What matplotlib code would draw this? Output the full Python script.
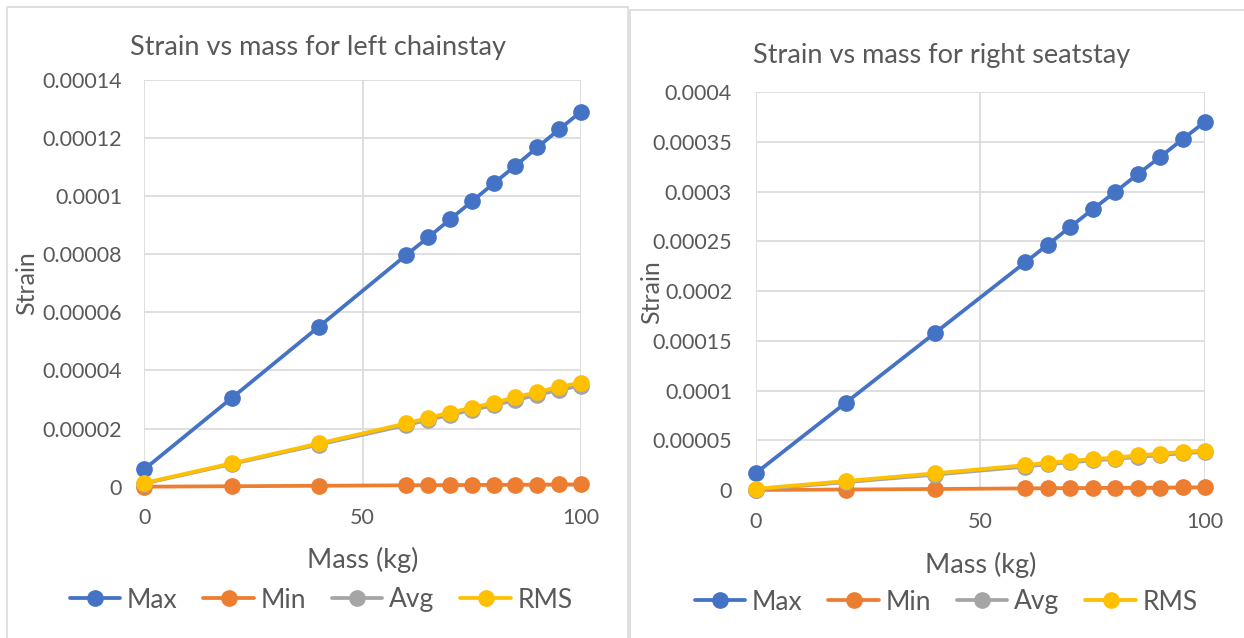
import matplotlib
matplotlib.use("Agg")
import matplotlib.pyplot as plt
from matplotlib.patches import Rectangle
from matplotlib.ticker import FixedLocator, FixedFormatter

plt.rcParams['font.family'] = ['Lato', 'DejaVu Sans']

# ---- data -------------------------------------------------------------
mass = [0, 20, 40, 60, 65, 70, 75, 80, 85, 90, 95, 100]

chain_max = [6.0e-6, 3.05e-5, 5.51e-5, 7.98e-5, 8.58e-5, 9.20e-5,
             9.82e-5, 1.044e-4, 1.105e-4, 1.168e-4, 1.230e-4, 1.291e-4]
chain_min = [0.0, 1.6e-7, 3.2e-7, 4.8e-7, 5.2e-7, 5.6e-7,
             6.0e-7, 6.4e-7, 6.8e-7, 7.2e-7, 7.6e-7, 8.0e-7]
chain_avg = [1.1e-6, 7.8e-6, 1.45e-5, 2.12e-5, 2.30e-5, 2.47e-5,
             2.64e-5, 2.80e-5, 2.98e-5, 3.16e-5, 3.33e-5, 3.48e-5]
chain_rms = [1.3e-6, 8.05e-6, 1.49e-5, 2.18e-5, 2.37e-5, 2.55e-5,
             2.72e-5, 2.89e-5, 3.08e-5, 3.26e-5, 3.44e-5, 3.58e-5]

seat_max = [1.69e-5, 8.76e-5, 1.583e-4, 2.29e-4, 2.467e-4, 2.645e-4,
            2.823e-4, 2.997e-4, 3.175e-4, 3.349e-4, 3.527e-4, 3.704e-4]
seat_min = [0.0, 5e-7, 1.0e-6, 1.6e-6, 1.8e-6, 1.9e-6,
            2.0e-6, 2.2e-6, 2.3e-6, 2.4e-6, 2.6e-6, 2.7e-6]
seat_avg = [5e-7, 7.8e-6, 1.55e-5, 2.35e-5, 2.6e-5, 2.78e-5,
            2.97e-5, 3.12e-5, 3.33e-5, 3.50e-5, 3.70e-5, 3.82e-5]
seat_rms = [1.2e-6, 9.0e-6, 1.68e-5, 2.50e-5, 2.75e-5, 2.92e-5,
            3.12e-5, 3.25e-5, 3.48e-5, 3.65e-5, 3.85e-5, 3.97e-5]

series_names = ["Max", "Min", "Avg", "RMS"]
series_colors = ["#4472C4", "#ED7D31", "#A5A5A5", "#FFC000"]

chain_ticks = [0, 0.00002, 0.00004, 0.00006, 0.00008, 0.0001, 0.00012, 0.00014]
chain_tick_labels = ["0", "0.00002", "0.00004", "0.00006", "0.00008",
                     "0.0001", "0.00012", "0.00014"]
seat_ticks = [0, 0.00005, 0.0001, 0.00015, 0.0002, 0.00025, 0.0003,
              0.00035, 0.0004]
seat_tick_labels = ["0", "0.00005", "0.0001", "0.00015", "0.0002",
                    "0.00025", "0.0003", "0.00035", "0.0004"]
mass_ticks = [0, 50, 100]

# ---- figure -----------------------------------------------------------
W, H = 1244, 638
fig = plt.figure(figsize=(W / 100, H / 100), dpi=100)
fig.patch.set_facecolor("white")

TEXT = "#595959"
GRID = "#D9D9D9"


def fx(x):
    return x / W


def fy(y):
    return 1 - y / H


# chart-area frames
fig.add_artist(Rectangle((fx(7), -0.02), fx(628) - fx(7), fy(7) + 0.02,
                         transform=fig.transFigure, fill=False,
                         edgecolor=GRID, linewidth=1.2))
fig.add_artist(Rectangle((fx(630), -0.02), 0.5, fy(10) + 0.02,
                         transform=fig.transFigure, fill=False,
                         edgecolor=GRID, linewidth=1.2))


def draw_chart(rect, series, yticks, ylabels, title, title_xy,
               xlabel_coords, ylabel_coords, legend_xy, ypad, xpad):
    ax = fig.add_axes(rect)
    for vals, name, col in zip(series, series_names, series_colors):
        ax.plot(mass, vals, color=col, linewidth=2.7, marker="o",
                markersize=11, label=name, solid_capstyle="round",
                clip_on=False, zorder=3)
    ax.set_xlim(0, 100)
    ax.set_ylim(yticks[0], yticks[-1])
    ax.xaxis.set_major_locator(FixedLocator(mass_ticks))
    ax.yaxis.set_major_locator(FixedLocator(yticks))
    ax.yaxis.set_major_formatter(FixedFormatter(ylabels))
    ax.grid(True, color=GRID, linewidth=1.2)
    ax.set_axisbelow(True)
    for s in ax.spines.values():
        s.set_visible(False)
    ax.tick_params(axis="both", length=0, labelsize=15.5, labelcolor=TEXT)
    ax.tick_params(axis="y", pad=ypad)
    ax.tick_params(axis="x", pad=xpad)

    ax.set_xlabel("Mass (kg)", fontsize=19.5, color=TEXT)
    ax.xaxis.label.set_va("center")
    ax.xaxis.set_label_coords(*xlabel_coords)
    ax.set_ylabel("Strain", fontsize=18, color=TEXT)
    ax.yaxis.label.set_va("center")
    ax.yaxis.set_label_coords(*ylabel_coords)

    fig.text(fx(title_xy[0]), fy(title_xy[1]), title, fontsize=19.5,
             color=TEXT, ha="center", va="center")

    handles, labels = ax.get_legend_handles_labels()
    leg = fig.legend(handles, labels, loc="center",
                     bbox_to_anchor=(fx(legend_xy[0]), fy(legend_xy[1])),
                     ncol=4, frameon=False, fontsize=19,
                     handlelength=1.9, handletextpad=0.25,
                     columnspacing=1.0, borderpad=0, borderaxespad=0)
    for t in leg.get_texts():
        t.set_color(TEXT)
    return ax


# left: chainstay
draw_chart([fx(144.3), fy(486.7), fx(581) - fx(144.3), fy(80) - fy(486.7)],
           [chain_max, chain_min, chain_avg, chain_rms],
           chain_ticks, chain_tick_labels,
           "Strain vs mass for left chainstay", (318, 47),
           (0.5, -0.180), (-0.2686, 0.501), (321, 600), 16, 15)

# right: seatstay
draw_chart([fx(755.7), fy(490), fx(1205) - fx(755.7), fy(92.3) - fy(490)],
           [seat_max, seat_min, seat_avg, seat_rms],
           seat_ticks, seat_tick_labels,
           "Strain vs mass for right seatstay", (942, 55),
           (0.5, -0.189), (-0.231, 0.498), (946, 602), 17, 16)

fig.savefig("out.png", dpi=100, facecolor="white")
